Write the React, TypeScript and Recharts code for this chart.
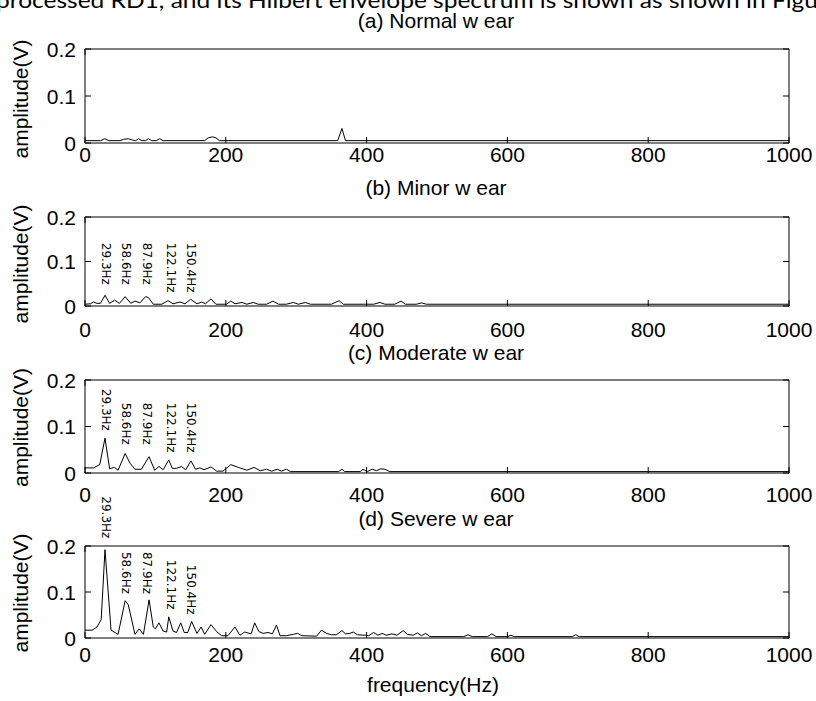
import React from 'react';
import { LineChart, Line, XAxis, YAxis, ReferenceDot } from 'recharts';

// ---------- data ----------
const freqTicks = [0, 200, 400, 600, 800, 1000];
const ampTicks = [0, 0.1, 0.2];

const harmonicLabels = ['29.3Hz', '58.6Hz', '87.9Hz', '122.1Hz', '150.4Hz'];
const harmonicFreqs = [29.3, 58.6, 87.9, 122.1, 150.4];
const labelTopB = [0.142, 0.142, 0.142, 0.142, 0.142];
const labelTopC = [0.181, 0.151, 0.151, 0.151, 0.151];
const labelTopD = [0.308, 0.187, 0.187, 0.17, 0.159];

const freqA = [0, 22, 28, 34, 50, 55, 62, 68, 72, 76, 81, 86, 90, 95, 101, 106, 111, 170, 175, 181, 186, 191, 359, 365, 370, 1000];
const ampA = [0.005, 0.005, 0.009, 0.005, 0.005, 0.008, 0.009, 0.006, 0.005, 0.009, 0.005, 0.005, 0.009, 0.005, 0.005, 0.009, 0.005, 0.005, 0.011, 0.013, 0.011, 0.005, 0.005, 0.031, 0.005, 0.005];

const freqB = [0, 8, 12, 17, 22, 28.4, 35, 42, 49, 57, 65, 71, 78, 86, 90, 97, 109, 118, 125, 135, 142, 150, 159, 166, 171, 179, 186, 201, 207, 213, 223, 230, 239, 246, 258, 267, 275, 286, 296, 303, 313, 320, 350, 361, 367, 410, 419, 426, 440, 449, 455, 471, 478, 485, 1000];
const ampB = [0.004, 0.005, 0.009, 0.006, 0.006, 0.024, 0.006, 0.013, 0.006, 0.021, 0.006, 0.011, 0.007, 0.021, 0.019, 0.004, 0.004, 0.012, 0.005, 0.009, 0.005, 0.015, 0.005, 0.009, 0.005, 0.016, 0.004, 0.004, 0.011, 0.005, 0.008, 0.004, 0.008, 0.004, 0.004, 0.011, 0.004, 0.004, 0.008, 0.004, 0.008, 0.004, 0.004, 0.012, 0.004, 0.004, 0.008, 0.004, 0.004, 0.011, 0.004, 0.004, 0.007, 0.004, 0.004];

const freqC = [0, 12, 21, 28.4, 35, 42, 47, 57, 64, 71, 80, 91, 99, 105, 111, 119, 124, 130, 137, 143, 150.5, 157, 163, 169, 179, 187, 196, 207, 218, 230, 240, 249, 258, 265, 273, 279, 286, 292, 360, 365, 369, 391, 395, 401, 408, 414, 420, 426, 433, 1000];
const ampC = [0.011, 0.011, 0.018, 0.075, 0.009, 0.012, 0.006, 0.042, 0.021, 0.008, 0.008, 0.035, 0.006, 0.014, 0.007, 0.028, 0.01, 0.01, 0.014, 0.007, 0.026, 0.008, 0.011, 0.007, 0.013, 0.004, 0.004, 0.018, 0.012, 0.006, 0.012, 0.005, 0.008, 0.004, 0.008, 0.004, 0.008, 0.003, 0.003, 0.008, 0.003, 0.003, 0.008, 0.003, 0.008, 0.005, 0.009, 0.008, 0.003, 0.003];

const freqD = [0, 10, 17, 23, 28.4, 37, 47, 57, 61.5, 71, 77, 83, 91, 97, 100, 105, 111, 116, 119, 125, 130, 136, 141, 146, 151.5, 159, 165, 170, 179, 187, 194, 203, 213, 220, 227, 236, 241, 247, 253, 260, 266, 272, 277, 286, 296, 302, 308, 329, 336, 343, 350, 357, 365, 370, 376, 381, 387, 398, 403, 410, 416, 422, 428, 436, 443, 452, 458, 466, 472, 478, 484, 490, 538, 544, 550, 572, 578, 584, 600, 605, 610, 692, 697, 702, 1000];
const ampD = [0.017, 0.017, 0.024, 0.04, 0.192, 0.017, 0.008, 0.081, 0.072, 0.008, 0.02, 0.008, 0.083, 0.024, 0.02, 0.033, 0.015, 0.013, 0.046, 0.015, 0.012, 0.033, 0.012, 0.012, 0.036, 0.01, 0.024, 0.008, 0.029, 0.014, 0.005, 0.005, 0.024, 0.006, 0.013, 0.009, 0.033, 0.014, 0.01, 0.012, 0.009, 0.028, 0.005, 0.005, 0.008, 0.01, 0.005, 0.004, 0.017, 0.01, 0.007, 0.007, 0.016, 0.009, 0.01, 0.013, 0.007, 0.006, 0.005, 0.012, 0.006, 0.01, 0.006, 0.009, 0.006, 0.016, 0.008, 0.006, 0.011, 0.005, 0.01, 0.003, 0.003, 0.007, 0.003, 0.003, 0.009, 0.003, 0.003, 0.006, 0.003, 0.003, 0.007, 0.003, 0.003];

const titles = ['(a) Normal w ear', '(b) Minor w ear', '(c) Moderate w ear', '(d) Severe w ear'];
const pageText = 'processed RD1, and its Hilbert envelope spectrum is shown as shown in Figu';

// ---------- layout ----------
const FONT = "'Liberation Sans', Arial, Helvetica, sans-serif";
const W = 816;
const TOPPAD = 60;
const BOTPAD = 40;

const toData = (f: number[], a: number[]) => f.map((v, i) => ({ f: v, a: a[i] }));

const panels = [
  { data: toData(freqA, ampA), top: 49, bottom: 143, gap: 19, titleY: 28, ylabY: 99, labels: null as number[] | null },
  { data: toData(freqB, ampB), top: 217, bottom: 306, gap: 30.5, titleY: 195, ylabY: 264, labels: labelTopB },
  { data: toData(freqC, ampC), top: 380, bottom: 473, gap: 28.5, titleY: 360, ylabY: 427.5, labels: labelTopC },
  { data: toData(freqD, ampD), top: 546, bottom: 638, gap: 23.5, titleY: 526, ylabY: 593, labels: labelTopD },
];

function BottomTick(props: any) {
  const { x, y, payload, gap } = props;
  return (
    <g>
      <line x1={x} x2={x} y1={y} y2={y - 6} stroke="#000" strokeWidth={1} />
      <text x={x} y={y + gap} textAnchor="middle" fontSize={21} fontFamily={FONT} fill="#000">
        {payload.value}
      </text>
    </g>
  );
}

function TopTick(props: any) {
  const { x, y } = props;
  return <line x1={x} x2={x} y1={y} y2={y + 6} stroke="#000" strokeWidth={1} />;
}

function LeftTick(props: any) {
  const { x, y, payload } = props;
  return (
    <g>
      <line x1={x} x2={x + 6} y1={y} y2={y} stroke="#000" strokeWidth={1} />
      <text x={x - 9} y={y + 7.5} textAnchor="end" fontSize={21} fontFamily={FONT} fill="#000">
        {String(payload.value)}
      </text>
    </g>
  );
}

function RightTick(props: any) {
  const { x, y } = props;
  return <line x1={x} x2={x - 6} y1={y} y2={y} stroke="#000" strokeWidth={1} />;
}

function Panel({ p }: { p: (typeof panels)[number] }) {
  const h = p.bottom - p.top + TOPPAD + BOTPAD;
  return (
    <div style={{ position: 'absolute', left: 0, top: p.top - TOPPAD, width: W, height: h }}>
      <LineChart width={W} height={h} data={p.data} margin={{ top: TOPPAD - 1, right: 26, bottom: BOTPAD - 30, left: 25 }}>
        <XAxis
          xAxisId="bottom"
          dataKey="f"
          type="number"
          domain={[0, 1000]}
          ticks={freqTicks}
          interval={0}
          height={30}
          tickSize={0}
          tickMargin={0}
          tickLine={false}
          axisLine={{ stroke: '#000', strokeWidth: 1 }}
          tick={(t: any) => <BottomTick {...t} gap={p.gap} />}
          allowDataOverflow
        />
        <XAxis
          xAxisId="top"
          orientation="top"
          type="number"
          domain={[0, 1000]}
          ticks={freqTicks}
          interval={0}
          height={1}
          tickSize={0}
          tickMargin={0}
          tickLine={false}
          axisLine={{ stroke: '#000', strokeWidth: 1 }}
          tick={(t: any) => <TopTick {...t} />}
          allowDataOverflow
        />
        <YAxis
          yAxisId="left"
          type="number"
          domain={[0, 0.2]}
          ticks={ampTicks}
          interval={0}
          width={60}
          tickSize={0}
          tickMargin={0}
          tickLine={false}
          axisLine={{ stroke: '#000', strokeWidth: 1 }}
          tick={(t: any) => <LeftTick {...t} />}
          allowDataOverflow
        />
        <YAxis
          yAxisId="right"
          orientation="right"
          type="number"
          domain={[0, 0.2]}
          ticks={ampTicks}
          interval={0}
          width={1}
          tickSize={0}
          tickMargin={0}
          tickLine={false}
          axisLine={{ stroke: '#000', strokeWidth: 1 }}
          tick={(t: any) => <RightTick {...t} />}
          allowDataOverflow
        />
        <Line
          xAxisId="bottom"
          yAxisId="left"
          type="linear"
          dataKey="a"
          stroke="#000"
          strokeWidth={1}
          dot={false}
          activeDot={false}
          isAnimationActive={false}
        />
        {p.labels &&
          harmonicLabels.map((lab, i) => (
            <ReferenceDot
              key={lab}
              xAxisId="bottom"
              yAxisId="left"
              x={harmonicFreqs[i]}
              y={(p.labels as number[])[i]}
              r={0}
              ifOverflow="visible"
              shape={(s: any) => (
                <text
                  transform={`translate(${s.cx - 4}, ${s.cy}) rotate(90)`}
                  fontSize={12}
                  fontFamily="'DejaVu Sans', sans-serif"
                  fill="#000"
                  textAnchor="start"
                >
                  {lab}
                </text>
              )}
            />
          ))}
      </LineChart>
    </div>
  );
}

export default function App() {
  return (
    <div style={{ position: 'absolute', left: 0, top: 0, width: W, height: 701, background: '#fff', overflow: 'hidden' }}>
      {panels.map((p, i) => (
        <Panel key={i} p={p} />
      ))}
      <svg width={W} height={701} style={{ position: 'absolute', left: 0, top: 0, pointerEvents: 'none' }}>
        <text x={-4} y={8} fontSize={21} fontFamily="Lato, 'Open Sans', sans-serif" fill="#000" textLength={822} lengthAdjust="spacingAndGlyphs">
          {pageText}
        </text>
        {panels.map((p, i) => (
          <g key={i}>
            <text x={436} y={p.titleY} textAnchor="middle" fontSize={21} fontFamily={FONT} fill="#000">
              {titles[i]}
            </text>
            <text transform={`translate(28, ${p.ylabY}) rotate(-90)`} textAnchor="middle" fontSize={21} fontFamily={FONT} fill="#000">
              amplitude(V)
            </text>
          </g>
        ))}
        <text x={433} y={692} textAnchor="middle" fontSize={21} fontFamily={FONT} fill="#000">
          frequency(Hz)
        </text>
      </svg>
    </div>
  );
}
